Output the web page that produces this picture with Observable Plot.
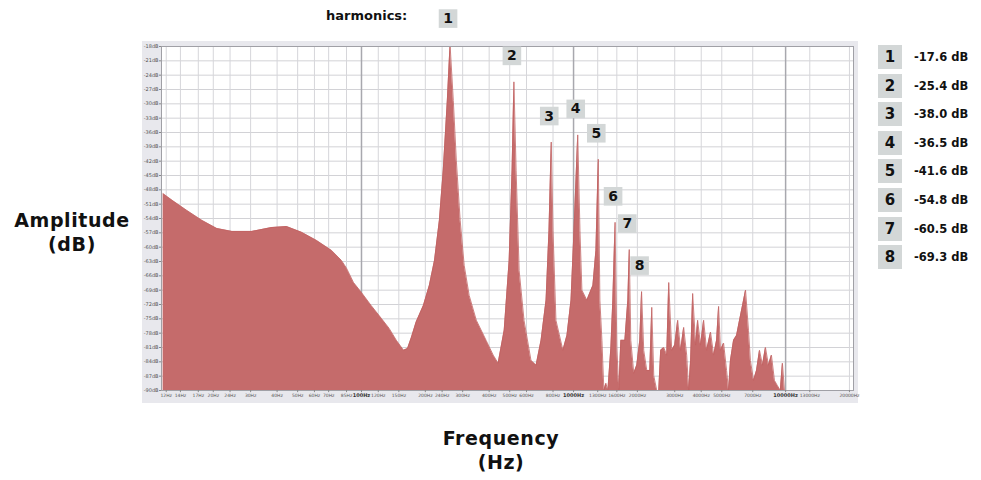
<!DOCTYPE html>
<html><head><meta charset="utf-8">
<script src="https://cdn.jsdelivr.net/npm/d3@7"></script>
<script src="https://cdn.jsdelivr.net/npm/@observablehq/plot@0.6"></script>
<style>
body{margin:0;background:#fff;font-family:"DejaVu Sans",Verdana,sans-serif;}
#wrap{position:relative;width:981px;height:480px;overflow:hidden;}
#panel{position:absolute;left:142px;top:41px;width:716px;height:362px;background:#e8e8ed;}
#chart{position:absolute;left:0;top:0;}
.t{position:absolute;font-weight:bold;color:#111;white-space:nowrap;}
.ttl{font-size:19px;letter-spacing:0.6px;line-height:22px;text-align:center;width:170px;}
.box{position:absolute;width:24px;height:24px;background:#d3d7d7;font-weight:bold;font-size:15px;line-height:24px;text-align:center;color:#111;}
.val{position:absolute;font-weight:bold;font-size:11.5px;line-height:24px;color:#111;}
</style></head>
<body><div id="wrap"><div id="panel"></div><div id="chart"></div></div>
<script>
// spectrum: frequency (Hz) and amplitude (dB)
const freqHz = [11.6,12.8,15.0,17.7,20.8,24.5,30.4,37.7,44.4,52.2,61.4,72.3,80.5,85.0,91.7,100,111,124,135,146,158,165,172,181,196,209,221,233,243,254,
261.6,271,280,292,305,322,348,387,418,441,471,497,513,
523.3,536,554,584,630,666,703,742,766,
784.9,800,826,891,931,973,1005,
1046.5,1072,1095,1156,1234,1275,
1308.1,1331,1361,1390,1421,1452,1500,1532,
1569.8,1600,1635,1671,1746,1803,
1831.4,1862,1923,1987,2053,
2093.0,2143,2215,2288,2338,2389,2469,2522,2576,2663,2751,2811,2904,3000,3098,3199,3306,3416,3490,3565,3645,3765,3847,3972,4106,4242,4426,4577,4727,4831,4932,5100,5268,5383,5495,5684,5872,6066,6266,6473,6683,6823,7060,7293,7533,7780,8036,8300,8573,8860,9154,9440,9660,9874];
const ampDb = [-48.8,-50.2,-52.3,-54.4,-56.1,-56.7,-56.7,-55.9,-55.7,-56.9,-58.6,-60.7,-62.8,-64.4,-67.4,-69.5,-72.2,-74.9,-77.0,-79.5,-81.6,-81.2,-78.9,-75.7,-72.2,-68.0,-62.8,-54.4,-43.9,-29.3,
-17.6,-29.3,-41.8,-54.4,-63.8,-70.1,-75.3,-79.5,-82.6,-84.3,-77.4,-62.8,-43.9,
-25.4,-43.9,-64.9,-75.3,-83.7,-84.7,-79.5,-71.1,-56.5,
-38.0,-56.5,-75.3,-81.6,-78.5,-71.1,-56.5,
-36.5,-56.5,-69.0,-71.1,-68.0,-60.7,
-41.6,-71.1,-79.5,-90,-88.5,-90,-81.0,-71.1,
-54.8,-81.0,-90,-79.5,-79.5,-71.1,
-60.5,-79.5,-86.4,-84.7,-79.5,
-69.3,-81.6,-85.8,-85.8,-72.6,-86.9,-90,-90,-81.6,-81.0,-82.6,-67.4,-81.6,-80.5,-75.3,-81.6,-76.8,-82.6,-90,-83.7,-69.7,-80.5,-75.3,-80.5,-75.3,-81.6,-77.8,-82.6,-79.5,-72.4,-81.6,-80.1,-85.8,-90,-83.7,-79.5,-78.5,-75.3,-72.2,-69.0,-77.4,-83.7,-87.9,-85.8,-81.6,-84.7,-81.0,-84.7,-82.6,-87.9,-89.0,-90,-84.3,-90];

// harmonics
const harmonicN = [1,2,3,4,5,6,7,8];
const harmonicHz = [261.6,523.3,784.9,1046.5,1308.1,1569.8,1831.4,2093.0];
const harmonicDb = [-17.6,-25.4,-38.0,-36.5,-41.6,-54.8,-60.5,-69.3];

// axis ticks
const xTicks = [12,14,17,20,24,30,40,50,60,70,85,100,120,150,200,240,300,400,500,600,800,1000,1300,1600,2000,3000,4000,5000,7000,10000,13000,20000];
const xMajor = [100,1000,10000];
const yTicks = d3.range(-18,-90.5,-3);

const spectrum = freqHz.map((f,i)=>({f, db: ampDb[i]}));
const harm = harmonicN.map((n,i)=>({n, f: harmonicHz[i], db: harmonicDb[i]}));
const minor = xTicks.filter(t=>!xMajor.includes(t));

const plot = Plot.plot({
  width: 981, height: 480,
  marginLeft: 161, marginRight: 128, marginTop: 46, marginBottom: 90,
  style: {background: "transparent", fontFamily: "DejaVu Sans, Verdana, sans-serif"},
  x: {type: "log", domain: [11.4, 20900], label: null, axis: null},
  y: {domain: [-90, -18], label: null},
  marks: [
    Plot.frame({fill: "white"}),
    Plot.gridY(yTicks, {stroke: "#d2d2d6", strokeOpacity: 1}),
    Plot.gridX(minor, {stroke: "#d6d6da", strokeOpacity: 1}),
    Plot.gridX(xMajor, {stroke: "#a8a8ae", strokeOpacity: 1, strokeWidth: 1.5}),
    Plot.areaY(spectrum, {x: "f", y1: -90, y2: "db", fill: "#c56b6b", curve: "linear", clip: true}),
    Plot.lineY(spectrum, {x: "f", y: "db", stroke: "#c26262", strokeWidth: 0.8, clip: true}),
    Plot.frame({stroke: "#a0a0a6"}),
    Plot.axisY(yTicks, {tickFormat: d => d + "dB", fontSize: 5, tickSize: 2, tickPadding: 1, fill: "#555", stroke: "#888", label: null}),
    Plot.ruleX(xTicks, {x: d => d, y1: -90, y2: -90.45, stroke: "#888"}),
    Plot.text(minor, {x: d => d, frameAnchor: "bottom", dy: 6, text: d => d + "Hz", fontSize: 4.5, fill: "#555"}),
    Plot.text(xMajor, {x: d => d, frameAnchor: "bottom", dy: 6, text: d => d + "Hz", fontSize: 5, fontWeight: "bold", fill: "#333"}),
    Plot.dot(harm, {x: "f", y: "db", dx: -2, dy: -26, symbol: "square", r: 10.5, fill: "#d3d7d7", stroke: "none", clip: false}),
    Plot.text(harm, {x: "f", y: "db", dx: -2, dy: -26, text: "n", fontSize: 14, fontWeight: "bold", fill: "#111"})
  ]
});
document.getElementById("chart").appendChild(plot);

const wrap = document.getElementById("wrap");
function add(cls, txt, css){const d=document.createElement("div");d.className=cls;d.textContent=txt;Object.assign(d.style,css);wrap.appendChild(d);}
add("t", "harmonics:", {left:"326px", top:"7px", fontSize:"13px", lineHeight:"18px"});
add("t ttl", "Amplitude", {left:"-13px", top:"209px"});
add("t ttl", "(dB)", {left:"-13px", top:"233px"});
add("t ttl", "Frequency", {left:"416px", top:"427px"});
add("t ttl", "(Hz)", {left:"416px", top:"451px"});
harmonicN.forEach((n,i)=>{
  const top = 45 + i*28.6;
  add("box", String(n), {left:"878px", top: top+"px"});
  add("val", harmonicDb[i].toFixed(1) + " dB", {left:"914px", top: top+"px"});
});
</script></body></html>
